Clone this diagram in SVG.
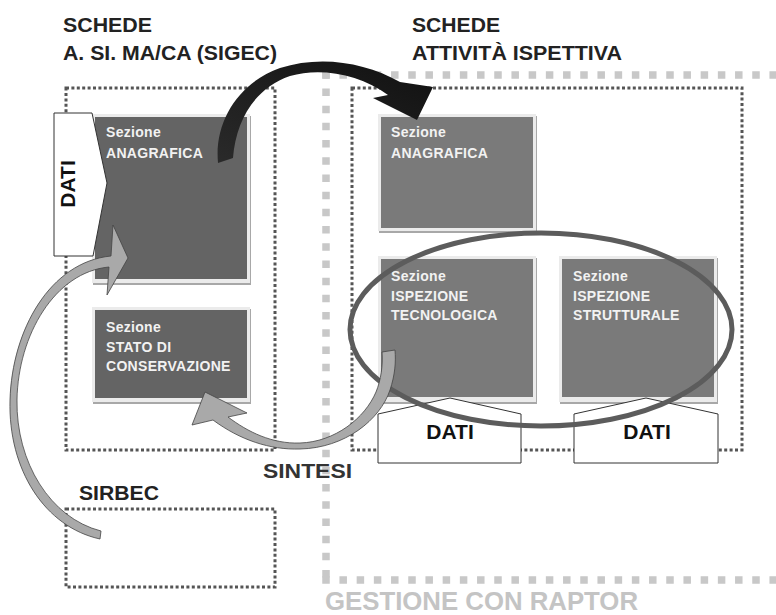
<svg xmlns="http://www.w3.org/2000/svg" width="776" height="615" viewBox="0 0 776 615">
<style>
.title{font-family:"Liberation Sans",Arial,sans-serif;font-weight:bold;fill:#222}
.sec{font-family:"Liberation Sans",Arial,sans-serif;font-weight:bold;font-size:14px;fill:#f2f2f2;letter-spacing:0.3px}
.dati{font-family:"Liberation Sans",Arial,sans-serif;font-weight:bold;font-size:21px;fill:#111}
.dotted{fill:none;stroke:#555;stroke-width:3;stroke-dasharray:3 2.4}
.gframe{fill:none;stroke:#c8c8c8;stroke-width:7.5;stroke-dasharray:7.5 9.7}
.frame{fill:#ebebeb}
.shadow{fill:#a8a8a8}
.dark{fill:#646464}
.mid{fill:#7a7a7a}
.tab{fill:#fff;stroke:#333;stroke-width:1}
.garrow{fill:#a9a9a9;stroke:#444;stroke-width:0.8}
</style>
<defs>
<linearGradient id="blk" x1="0" y1="1" x2="1" y2="0">
<stop offset="0" stop-color="#2a2a2a"/>
<stop offset="1" stop-color="#111"/>
</linearGradient>
</defs>
<rect width="776" height="615" fill="#fff"/>

<g id="frame-raptor">
<path class="gframe" d="M322.25,75 H776"/>
<path class="gframe" d="M326,71.25 V580"/>
<path class="gframe" d="M322.25,580 H776"/>
<text class="title" x="325" y="610" font-size="26" style="fill:#c4c4c4" textLength="313" lengthAdjust="spacingAndGlyphs">GESTIONE CON RAPTOR</text>
</g>

<g id="titles">
<text class="title" x="63" y="32" font-size="20" textLength="89" lengthAdjust="spacingAndGlyphs">SCHEDE</text>
<text class="title" x="63" y="60" font-size="20" textLength="214" lengthAdjust="spacingAndGlyphs">A. SI. MA/CA (SIGEC)</text>
<text class="title" x="412" y="32" font-size="20" textLength="88" lengthAdjust="spacingAndGlyphs">SCHEDE</text>
<text class="title" x="412" y="60" font-size="20" textLength="210" lengthAdjust="spacingAndGlyphs">ATTIVITÀ ISPETTIVA</text>
</g>

<g id="box-sigec">
<rect class="dotted" x="66" y="88" width="209" height="362"/>
</g>
<g id="box-sirbec">
<rect class="dotted" x="66" y="509" width="209" height="78"/>
<text class="title" x="79" y="500" font-size="21" textLength="80" lengthAdjust="spacingAndGlyphs">SIRBEC</text>
</g>
<g id="box-ispettiva">
<rect class="dotted" x="352" y="88" width="390" height="362"/>
</g>

<g id="sez-anagrafica-sigec">
<rect class="shadow" x="93" y="116" width="158" height="169"/>
<rect class="frame" x="92" y="114" width="158" height="169"/>
<rect class="dark" x="95" y="117" width="152" height="162"/>
<text class="sec" x="106" y="137">Sezione</text>
<text class="sec" x="106" y="158">ANAGRAFICA</text>
</g>

<g id="sez-stato">
<rect class="shadow" x="93" y="309" width="158" height="95"/>
<rect class="frame" x="92" y="307" width="158" height="95"/>
<rect class="dark" x="95" y="310" width="152" height="88"/>
<text class="sec" x="106" y="332">Sezione</text>
<text class="sec" x="106" y="352">STATO DI</text>
<text class="sec" x="106" y="371">CONSERVAZIONE</text>
</g>

<g id="sez-anagrafica-ispettiva">
<rect class="shadow" x="379" y="116" width="158" height="117"/>
<rect class="frame" x="378" y="114" width="158" height="117"/>
<rect class="mid" x="381" y="117" width="152" height="111"/>
<text class="sec" x="391" y="137">Sezione</text>
<text class="sec" x="391" y="158">ANAGRAFICA</text>
</g>

<g id="sez-tecnologica">
<rect class="shadow" x="379" y="258" width="158" height="146"/>
<rect class="frame" x="378" y="256" width="158" height="146"/>
<rect class="mid" x="381" y="259" width="152" height="138"/>
<text class="sec" x="391" y="281">Sezione</text>
<text class="sec" x="391" y="301">ISPEZIONE</text>
<text class="sec" x="391" y="320">TECNOLOGICA</text>
</g>

<g id="sez-strutturale">
<rect class="shadow" x="560" y="258" width="158" height="146"/>
<rect class="frame" x="559" y="256" width="158" height="146"/>
<rect class="mid" x="562" y="259" width="152" height="138"/>
<text class="sec" x="573" y="281">Sezione</text>
<text class="sec" x="573" y="301">ISPEZIONE</text>
<text class="sec" x="573" y="320">STRUTTURALE</text>
</g>

<g id="dati-sigec">
<path class="tab" d="M54,113 H92 L107,183 L93,256 H54 Z"/>
<text class="dati" transform="translate(75,184) rotate(-90)" text-anchor="middle">DATI</text>
</g>
<g id="dati-tecnologica">
<path class="tab" d="M378,414 L450,398 L521,414 V463 H378 Z"/>
<text class="dati" x="450" y="439" text-anchor="middle">DATI</text>
</g>
<g id="dati-strutturale">
<path class="tab" d="M574,414 L646,398 L718,414 V463 H574 Z"/>
<text class="dati" x="647" y="439" text-anchor="middle">DATI</text>
</g>

<g id="ellipse-ispezione">
<ellipse cx="541" cy="329.5" rx="191" ry="96.5" fill="none" stroke="#5c5c5c" stroke-width="5"/>
</g>

<g id="connectors">
<path fill="url(#blk)" d="M218,163 C214,120 240,82 280,68 C320,55 365,62 400,82 L433,87 L417,120 L373,98 L388,95 C360,74 320,67 290,76 C255,88 236,120 233,158 Z"/>
<path class="garrow" d="M100,539 C45,527 8,470 10,400 C12,330 50,262 111,256 L113,225 L128,258 L107,295 L109,267 C55,272 18,335 17,400 C16,462 50,518 101,531 Z"/>
<path class="garrow" d="M213,420 C240,440 270,450 300,449 C345,448 380,420 390,390 C395,375 396,362 395,350 L382,352 C383,365 381,380 376,392 C365,418 335,442 300,443 C272,444 248,432 228,417 L247,413 L205,392 L192,425 Z"/>
<text class="title" x="263" y="478" font-size="21" style="fill:#333" textLength="89" lengthAdjust="spacingAndGlyphs">SINTESI</text>
</g>
</svg>
